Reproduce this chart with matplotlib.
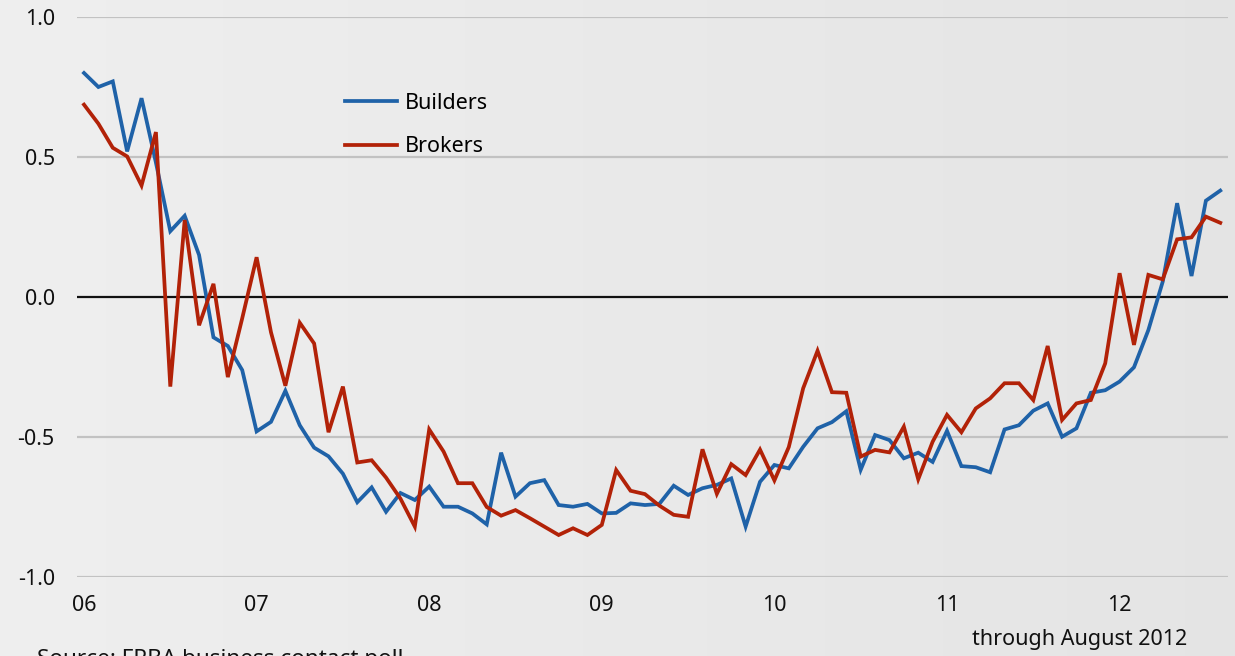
import matplotlib
matplotlib.use("Agg")
import matplotlib.pyplot as plt
import numpy as np

# Monthly data, Jan 2006 .. Aug 2012
start_year = 2006
builders = [0.80, 0.75, 0.77, 0.52, 0.71, 0.48, 0.235, 0.29, 0.15, -0.144,
            -0.175, -0.261, -0.48, -0.446, -0.335, -0.458, -0.538, -0.569, -0.631, -0.733,
            -0.68, -0.767, -0.70, -0.725, -0.677, -0.749, -0.749, -0.773, -0.812, -0.556,
            -0.713, -0.665, -0.654, -0.743, -0.749, -0.739, -0.773, -0.771, -0.737, -0.743,
            -0.739, -0.674, -0.707, -0.683, -0.671, -0.648, -0.82, -0.66, -0.60, -0.612,
            -0.535, -0.469, -0.447, -0.408, -0.617, -0.493, -0.511, -0.576, -0.556, -0.589,
            -0.478, -0.604, -0.608, -0.626, -0.473, -0.458, -0.406, -0.38, -0.499, -0.469,
            -0.342, -0.333, -0.302, -0.251, -0.118, 0.055, 0.335, 0.075, 0.344, 0.38]
brokers = [0.687, 0.619, 0.533, 0.502, 0.398, 0.589, -0.32, 0.275, -0.101, 0.047,
           -0.286, -0.076, 0.142, -0.126, -0.317, -0.092, -0.166, -0.483, -0.32, -0.591,
           -0.583, -0.645, -0.72, -0.82, -0.473, -0.552, -0.665, -0.665, -0.75, -0.781,
           -0.761, -0.79, -0.82, -0.85, -0.826, -0.85, -0.814, -0.618, -0.692, -0.704,
           -0.745, -0.778, -0.785, -0.544, -0.703, -0.597, -0.636, -0.545, -0.655, -0.536,
           -0.326, -0.192, -0.34, -0.342, -0.57, -0.546, -0.555, -0.463, -0.651, -0.517,
           -0.421, -0.483, -0.398, -0.362, -0.308, -0.308, -0.368, -0.175, -0.439, -0.38,
           -0.368, -0.237, 0.085, -0.171, 0.079, 0.063, 0.206, 0.213, 0.287, 0.265]
year_ticks = [2006, 2007, 2008, 2009, 2010, 2011, 2012]
year_labels = ["06", "07", "08", "09", "10", "11", "12"]
y_ticks = [1.0, 0.5, 0.0, -0.5, -1.0]
y_labels = ["1.0", "0.5", "0.0", "-0.5", "-1.0"]

plt.rcParams['font.family'] = ['Noto Sans', 'DejaVu Sans']

W, H = 1235, 656
bg = "#ececec"
fig = plt.figure(figsize=(W / 100, H / 100), dpi=100, facecolor=bg)

# subtle horizontal background gradient
bgax = fig.add_axes([0, 0, 1, 1], zorder=-10)
gx = np.linspace(0, 1, 200)
gvals = np.linspace(0.933, 0.893, 199).reshape(1, -1)
bgax.pcolormesh(gx, [0, 1], gvals, cmap="gray", vmin=0, vmax=1,
                shading="flat", antialiased=False, edgecolors="none")
bgax.set_xlim(0, 1)
bgax.set_ylim(0, 1)
bgax.axis("off")

ax = fig.add_axes([77 / W, 1 - 577 / H, (1228 - 77) / W, 560 / H])
ax.set_facecolor("none")

x = start_year + np.arange(len(builders)) / 12.0

for yv in [1.0, 0.5, -0.5, -1.0]:
    ax.axhline(yv, color="#c2c2c2", lw=1.6, zorder=1)
ax.axhline(0, color="#111111", lw=1.6, zorder=1)

ax.plot(x, builders, color="#1f62a8", lw=2.7, label="Builders", zorder=3,
        solid_joinstyle="miter")
ax.plot(x, brokers, color="#b22208", lw=2.7, label="Brokers", zorder=3,
        solid_joinstyle="miter")

ax.set_ylim(-1.0, 1.0)
ax.set_xlim(2006 - 7 / 172.6, 2006 + 1144 / 172.6)
ax.set_yticks(y_ticks)
ax.set_yticklabels(y_labels)
ax.set_xticks(year_ticks)
ax.set_xticklabels(year_labels)
ax.tick_params(axis="both", length=0, labelsize=15.5, colors="#111111")
ax.tick_params(axis="y", pad=16)
ax.tick_params(axis="x", pad=13)
for s in ax.spines.values():
    s.set_visible(False)

leg = ax.legend(loc="upper left", bbox_to_anchor=(336 / W, 1 - 84 / H),
                bbox_transform=fig.transFigure, frameon=False, fontsize=15.5,
                handlelength=2.45, handletextpad=0.33, labelspacing=1.05,
                borderaxespad=0)

fig.text(1080 / W, 1 - 640 / H, "through August 2012", ha="center", va="center",
         fontsize=15.5, color="#111111")
fig.text(37 / W, 1 - 649 / H, "Source: FRBA business contact poll", ha="left",
         va="top", fontsize=16.2, color="#111111")

fig.savefig("out.png", dpi=100, facecolor=bg)
